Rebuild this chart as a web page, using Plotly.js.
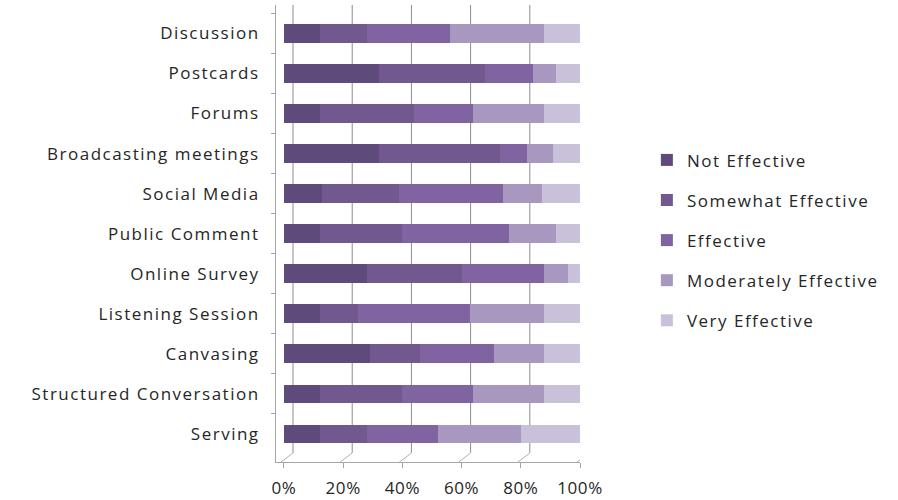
<!DOCTYPE html>
<html>
<head>
<meta charset="utf-8">
<script src="https://cdn.plot.ly/plotly-3.0.1.min.js"></script>
<style>
html,body{margin:0;padding:0;background:#fff;}
#chart{width:898px;height:500px;}
#chart .ytick text, #chart .legendtext {letter-spacing:1.5px;}
#chart .xtick text {letter-spacing:0.6px;}
#chart .legend .scrollbox {clip-path:none !important;}
</style>
</head>
<body>
<div id="chart"></div>
<script>
const categories = ["Discussion","Postcards","Forums","Broadcasting meetings","Social Media","Public Comment","Online Survey","Listening Session","Canvasing","Structured Conversation","Serving"];
const notEffective        = [12,32,12,32,13,12,28,12,29,12,12];
const somewhatEffective   = [16,36,32,41,26,28,32,13,17,28,16];
const effective           = [28,16,20, 9,35,36,28,38,25,24,24];
const moderatelyEffective = [32, 8,24, 9,13,16, 8,25,17,24,28];
const veryEffective       = [12, 8,12, 9,13, 8, 4,12,12,12,20];
const seriesNames = ["Not Effective","Somewhat Effective","Effective","Moderately Effective","Very Effective"];
const xTickVals = [0,20,40,60,80,100];
const xTickText = ["0%","20%","40%","60%","80%","100%"];

const seriesValues = [notEffective, somewhatEffective, effective, moderatelyEffective, veryEffective];
const colors = ["#5f4a7c","#71598f","#8064a2","#a898c0","#c9c0d9"];

const traces = seriesValues.map((vals, i) => ({
  type: "bar",
  orientation: "h",
  name: seriesNames[i],
  y: categories,
  x: vals,
  legendgroup: "g" + i,
  marker: {color: colors[i], line: {width: 0}},
  hoverinfo: "x+y+name"
}));

const gridColor = "#8c8c8c";
const shapes = [];
xTickVals.forEach(v => {
  shapes.push({type: "line", layer: "below", xref: "x", xsizemode: "pixel", xanchor: v, x0: 9, x1: 9,
    yref: "paper", y0: 0.02, y1: 1, line: {color: gridColor, width: 1}});
  shapes.push({type: "line", layer: "below", xref: "x", xsizemode: "pixel", xanchor: v, x0: -3, x1: 9,
    yref: "paper", ysizemode: "pixel", yanchor: 0, y0: 0, y1: 9, line: {color: "#b0b0b0", width: 1}});
});

const fontFam = "Open Sans, DejaVu Sans, sans-serif";
const layout = {
  width: 898, height: 500,
  margin: {l: 276, r: 318, t: 5, b: 38},
  paper_bgcolor: "#ffffff", plot_bgcolor: "rgba(0,0,0,0)",
  barmode: "stack",
  bargap: 0.53,
  font: {family: fontFam, size: 17, color: "#262626"},
  xaxis: {
    range: [-2.7, 100],
    tickvals: xTickVals, ticktext: xTickText,
    showgrid: false, zeroline: false,
    showline: true, linecolor: "#a6a6a6", linewidth: 1,
    ticks: "outside", ticklen: 5, tickcolor: "#a6a6a6",
    ticklabelstandoff: 6,
    tickfont: {family: fontFam, size: 17, color: "#262626"}
  },
  yaxis: {
    type: "category",
    categoryorder: "array", categoryarray: categories,
    range: [10.7, -0.71],
    showgrid: false, zeroline: false,
    showline: true, linecolor: "#a6a6a6", linewidth: 1,
    ticks: "outside", ticklen: 4, tickcolor: "#a6a6a6",
    tickson: "boundaries",
    ticklabelstandoff: 12,
    tickfont: {family: fontFam, size: 17, color: "#262626"}
  },
  legend: {
    x: 1.22, xanchor: "left", y: 0.485, yanchor: "middle",
    traceorder: "grouped", tracegroupgap: 15, itemwidth: 30,
    font: {family: fontFam, size: 17, color: "#262626"},
    bgcolor: "rgba(0,0,0,0)"
  },
  shapes: shapes,
  showlegend: true
};

Plotly.newPlot("chart", traces, layout, {displayModeBar: false, staticPlot: true});
</script>
</body>
</html>
